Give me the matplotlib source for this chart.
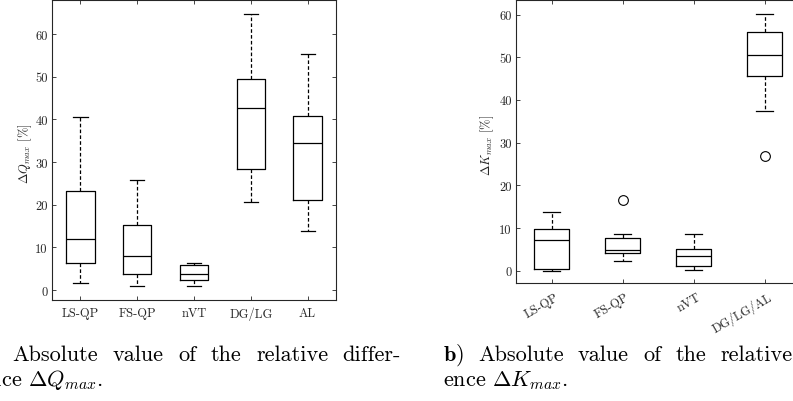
import matplotlib
matplotlib.use('Agg')
import matplotlib.pyplot as plt
from matplotlib.transforms import ScaledTranslation

plt.rcParams['font.family'] = ['cmr10', 'DejaVu Serif']
plt.rcParams['mathtext.fontset'] = 'cm'
plt.rcParams['axes.formatter.use_mathtext'] = True
plt.rcParams['lines.scale_dashes'] = False

# ---------------- data ----------------
q_labels = ['LS-QP', 'FS-QP', 'nVT', 'DG/LG', 'AL']
q_whislo = [1.6, 1.0, 0.87, 20.65, 13.85]
q_q1 = [6.4, 3.7, 2.27, 28.3, 21.0]
q_med = [12.0, 8.05, 3.83, 42.65, 34.5]
q_q3 = [23.3, 15.2, 5.95, 49.4, 40.8]
q_whishi = [40.5, 25.8, 6.4, 64.7, 55.4]
q_fliers = [[], [], [], [], []]

k_labels = ['LS-QP', 'FS-QP', 'nVT', 'DG/LG/AL']
k_whislo = [0.0, 2.27, 0.08, 37.35]
k_q1 = [0.33, 4.07, 1.1, 45.7]
k_med = [7.27, 4.78, 3.52, 50.55]
k_q3 = [9.77, 7.73, 5.16, 55.8]
k_whishi = [13.76, 8.67, 8.67, 60.2]
k_fliers = [[], [16.6], [], [26.9]]

y_ticks = [0, 10, 20, 30, 40, 50, 60]
y_ticklabels = ['0', '10', '20', '30', '40', '50', '60']

q_ylabel = r'$\Delta Q_{max}$ [%]'
k_ylabel = r'$\Delta K_{max}$ [%]'

cap_a1 = [r'$\mathbf{a)}$', 'Absolute', 'value', 'of', 'the', 'relative', 'differ-']
cap_a2 = r'ence $\Delta Q_{max}$.'
cap_b1 = [r'$\mathbf{b)}$', 'Absolute', 'value', 'of', 'the', 'relative', 'differ-']
cap_b2 = r'ence $\Delta K_{max}$.'

# ---------------- figure ----------------
W, H = 793, 402
fig = plt.figure(figsize=(W / 100, H / 100), dpi=100)

def px_axes(x0, y0, x1, y1):
    return fig.add_axes([x0 / W, 1 - y1 / H, (x1 - x0) / W, (y1 - y0) / H])

ax1 = px_axes(52, 1, 336, 301)
ax2 = px_axes(516, 1, 800, 284.3)

def make_stats(lo, q1, med, q3, hi, fl):
    return [dict(whislo=a, q1=b, med=c, q3=d, whishi=e, fliers=f)
            for a, b, c, d, e, f in zip(lo, q1, med, q3, hi, fl)]

grey = '#262626'
lw = 0.9
common = dict(widths=0.5, capwidths=0.25, showfliers=True,
              boxprops=dict(color='k', lw=lw),
              whiskerprops=dict(color='k', lw=lw, linestyle=(0, (2.6, 1.6))),
              capprops=dict(color='k', lw=lw),
              medianprops=dict(color='k', lw=lw),
              flierprops=dict(marker='o', markerfacecolor='none', markeredgecolor='k',
                              markersize=7, markeredgewidth=0.8))

ax1.bxp(make_stats(q_whislo, q_q1, q_med, q_q3, q_whishi, q_fliers),
        positions=list(range(1, len(q_labels) + 1)), **common)
ax2.bxp(make_stats(k_whislo, k_q1, k_med, k_q3, k_whishi, k_fliers),
        positions=list(range(1, len(k_labels) + 1)), **common)

ax1.set_xlim(0.5, len(q_labels) + 0.5)
ax1.set_ylim(-2.35, 68.0)
ax2.set_xlim(0.5, len(k_labels) + 0.5)
ax2.set_ylim(-2.95, 63.4)

for ax, labels in ((ax1, q_labels), (ax2, k_labels)):
    ax.set_xticks(list(range(1, len(labels) + 1)))
    ax.set_yticks(y_ticks)
    ax.set_yticklabels(y_ticklabels)
    for s in ax.spines.values():
        s.set_color(grey)
        s.set_linewidth(0.8)
    ax.tick_params(direction='in', length=3, width=0.6, colors=grey,
                   top=True, right=True, labelsize=9)
    ax.tick_params(axis='y', pad=3)

ax1.set_xticklabels(q_labels)
ax1.tick_params(axis='x', pad=5)
ax2.set_xticklabels(k_labels, rotation=30, ha='right', va='center', rotation_mode='anchor')
ax2.tick_params(axis='x', pad=9)
off = ScaledTranslation(6 / 100, 0, fig.dpi_scale_trans)
for lab in ax2.get_xticklabels():
    lab.set_transform(lab.get_transform() + off)

fig.text(25 / W, 1 - 154 / H, q_ylabel, rotation=90, ha='center', va='center',
         fontsize=9, color=grey)
fig.text(487 / W, 1 - 145 / H, k_ylabel, rotation=90, ha='center', va='center',
         fontsize=9, color=grey)

# ---------------- captions ----------------
cap_size = 16
fig.canvas.draw()
renderer = fig.canvas.get_renderer()

def justify(words, x0, x1, y):
    texts = [fig.text(0, 0, w, fontsize=cap_size, ha='left', va='baseline', color='k')
             for w in words]
    widths = [t.get_window_extent(renderer).width for t in texts]
    gap = (x1 - x0 - sum(widths)) / (len(words) - 1)
    x = x0
    for t, w in zip(texts, widths):
        t.set_position((x / W, 1 - y / H))
        x += w + gap

def plain(text, x0, y):
    fig.text(x0 / W, 1 - y / H, text, fontsize=cap_size, ha='left', va='baseline', color='k')

xa0, xa1 = -21, 401
xb0 = 443
cw = xa1 - xa0
justify(cap_a1, xa0, xa1, 361)
plain(cap_a2, xa0, 386)
justify(cap_b1, xb0, xb0 + cw, 361)
plain(cap_b2, xb0, 386)

fig.savefig('out.png', dpi=100)
